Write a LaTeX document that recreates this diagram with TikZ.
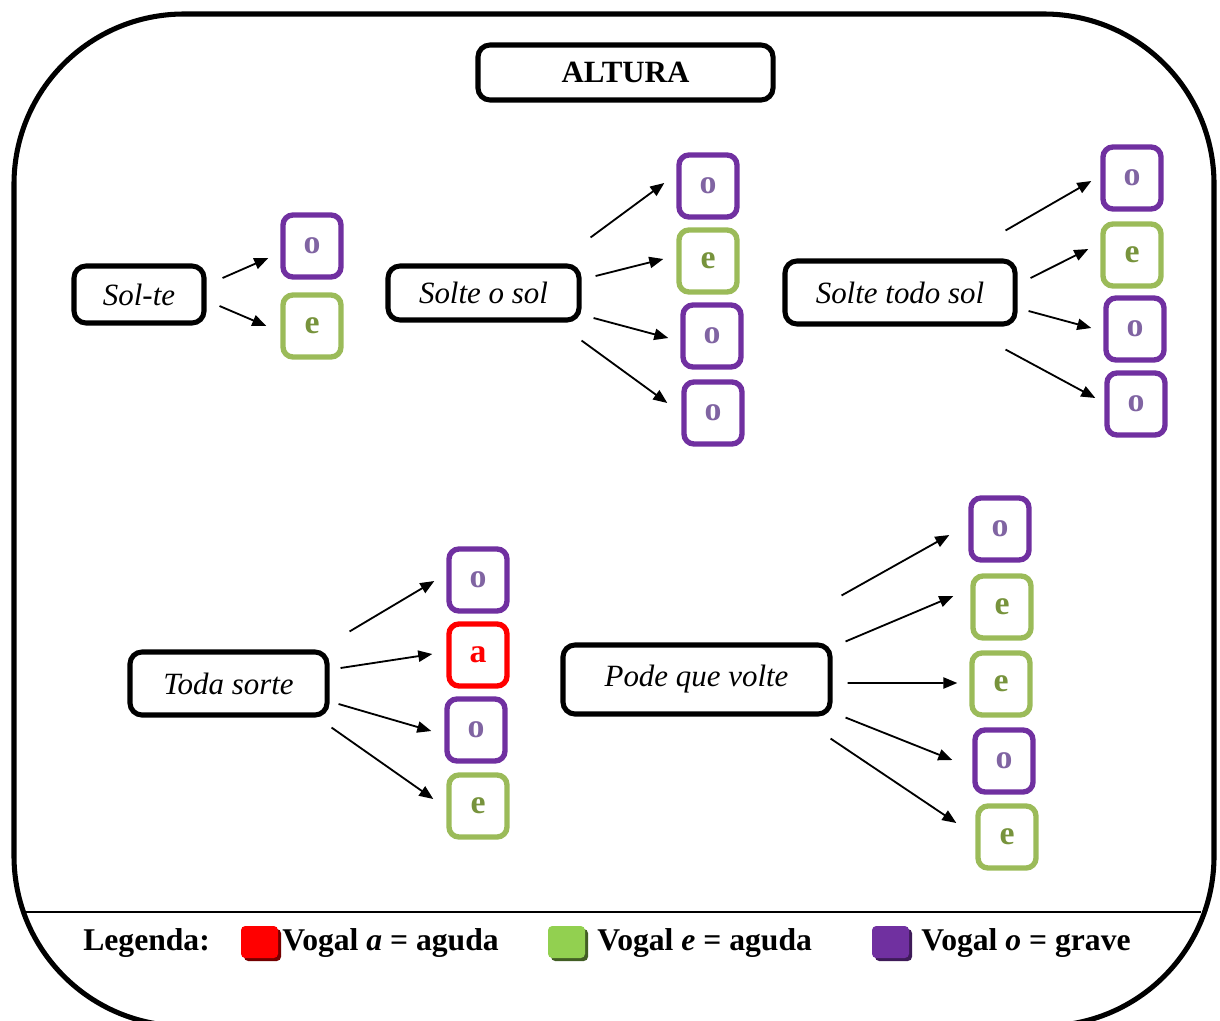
\documentclass[tikz,border=0pt]{standalone}
\usepackage{fontspec}
\setmainfont{Liberation Serif}
\usepackage{tikz}
\usetikzlibrary{arrows.meta, calc}

\definecolor{roxo}{HTML}{7030A0}
\definecolor{roxoclaro}{HTML}{8064A2}
\definecolor{verde}{HTML}{9BBB59}
\definecolor{verdeescuro}{HTML}{77933C}
\definecolor{verdevivo}{HTML}{92D050}
\definecolor{vermelho}{HTML}{FF0000}

\tikzset{
  palavra/.style={draw, line width=3.6pt, rounded corners=0.3cm, inner sep=0pt,
    font=\fontsize{22}{26}\selectfont\itshape},
  vogal/.style={draw, line width=3.8pt, rounded corners=0.25cm, inner sep=0pt,
    minimum width=1.45cm, minimum height=1.55cm, font=\fontsize{24}{28}\selectfont\bfseries},
  vo/.style={vogal, draw=roxo, text=roxoclaro},
  ve/.style={vogal, draw=verde, text=verdeescuro},
  va/.style={vogal, draw=vermelho, text=vermelho},
  seta/.style={-{Triangle[length=10pt,width=8pt]}, line width=1.3pt},
  legenda/.style={anchor=base west, inner sep=0pt, font=\fontsize{22.5}{26}\selectfont\bfseries}
}

\begin{document}
\begin{tikzpicture}[x=0.025cm, y=-0.025cm]
\useasboundingbox (0,0) rectangle (1220,1020);
\clip (0,0) rectangle (1220,1020);
% moldura
\draw[line width=3.6pt, rounded corners=4.25cm] (14,14) rectangle (1214,1026);
\draw[line width=1.4pt] (24,912)--(1201,912);

\node[palavra, font=\fontsize{22}{26}\selectfont\bfseries, minimum width=7.375cm, minimum height=1.375cm]
  (altura) at (625.5,72.5) {ALTURA};

% Sol-te
\node[palavra, minimum width=3.25cm, minimum height=1.425cm] (solte) at (139,294.5) {Sol-te};
\node[vo] (solte1) at (312,246) {o};
\node[ve] (solte2) at (312,326) {e};
\draw[seta] ($(solte.east)+(16,-16.5)$) -- ($(solte1.west)+(-12,12)$);
\draw[seta] ($(solte.east)+(13,11.5)$) -- ($(solte2.west)+(-14,0)$);

% Solte o sol
\node[palavra, minimum width=4.775cm, minimum height=1.35cm] (sol) at (483.5,293) {Solte o sol};
\node[vo] (sol1) at (708,186) {o};
\node[ve] (sol2) at (708,261) {e};
\node[vo] (sol3) at (712,336) {o};
\node[vo] (sol4) at (713,413) {o};
\draw[seta] ($(sol.north east)+(9,-26)$) -- ($(sol1.west)+(-12,-3)$);
\draw[seta] ($(sol.east)+(14,-17)$) -- ($(sol2.west)+(-13,-2)$);
\draw[seta] ($(sol.east)+(12,25)$) -- ($(sol3.west)+(-12,2)$);
\draw[seta] ($(sol.south east)+(0,18)$) -- ($(sol4.west)+(-14,-10)$);

% Solte todo sol
\node[palavra, minimum width=5.75cm, minimum height=1.575cm] (todo) at (900,292.5) {Solte todo sol};
\node[vo] (todo1) at (1132,178) {o};
\node[ve] (todo2) at (1132,255) {e};
\node[vo] (todo3) at (1135,329) {o};
\node[vo] (todo4) at (1136,404) {o};
\draw[seta] ($(todo.north east)+(-12,-28)$) -- ($(todo1.west)+(-9,3)$);
\draw[seta] ($(todo.east)+(13,-14.5)$) -- ($(todo2.west)+(-12,-6)$);
\draw[seta] ($(todo.east)+(11,18.5)$) -- ($(todo3.west)+(-12,-1)$);
\draw[seta] ($(todo.south east)+(-12,23)$) -- ($(todo4.west)+(-9,-6)$);

% Toda sorte
\node[palavra, minimum width=4.925cm, minimum height=1.575cm] (sorte) at (228.5,683.5) {Toda sorte};
\node[vo] (sorte1) at (478,580) {o};
\node[va] (sorte2) at (478,655) {a};
\node[vo] (sorte3) at (476,730) {o};
\node[ve] (sorte4) at (478,806) {e};
\draw[seta] ($(sorte.north east)+(20,-18)$) -- ($(sorte1.west)+(-12,1)$);
\draw[seta] ($(sorte.east)+(11,-15.5)$) -- ($(sorte2.west)+(-14,-1)$);
\draw[seta] ($(sorte.east)+(9,20.5)$) -- ($(sorte3.west)+(-13,1)$);
\draw[seta] ($(sorte.south east)+(2,10)$) -- ($(sorte4.west)+(-13,-7)$);

% Pode que volte
\node[palavra, minimum width=6.675cm, minimum height=1.725cm] (pode) at (696.5,679.5) {Pode que volte};
\node[vo] (pode1) at (1000,529) {o};
\node[ve] (pode2) at (1002,607) {e};
\node[ve] (pode3) at (1001,684) {e};
\node[vo] (pode4) at (1004,761) {o};
\node[ve] (pode5) at (1007,837) {e};
\draw[seta] ($(pode.north east)+(9,-47)$) -- ($(pode1.west)+(-19,6)$);
\draw[seta] ($(pode.north east)+(13,-1)$) -- ($(pode2.west)+(-17,-11)$);
\draw[seta] ($(pode.east)+(15,3.5)$) -- ($(pode3.west)+(-12,-1)$);
\draw[seta] ($(pode.south east)+(13,1)$) -- ($(pode4.west)+(-20,-1)$);
\draw[seta] ($(pode.south east)+(-2,22)$) -- ($(pode5.west)+(-19,-14)$);

% legenda
\node[legenda] (leg) at (83,950) {Legenda:};
\fill[vermelho!45!black, rounded corners=3pt] (244,929) rectangle (281,961);
\fill[vermelho, rounded corners=3pt] (241,926) rectangle (278,958);
\node[legenda] (lega) at (282,950) {Vogal \textit{a} = aguda};
\fill[verdevivo!45!black, rounded corners=3pt] (551,929) rectangle (588,961);
\fill[verdevivo, rounded corners=3pt] (548,926) rectangle (585,958);
\node[legenda] (lege) at (597,950) {Vogal \textit{e} = aguda};
\fill[roxo!55!black, rounded corners=3pt] (875,929) rectangle (912,961);
\fill[roxo, rounded corners=3pt] (872,926) rectangle (909,958);
\node[legenda] (lego) at (921,950) {Vogal \textit{o} = grave};
\end{tikzpicture}
\end{document}
